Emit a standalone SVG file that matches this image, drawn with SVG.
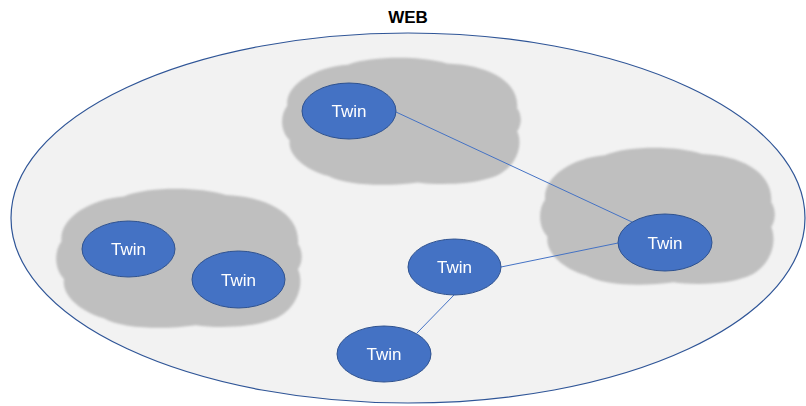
<svg xmlns="http://www.w3.org/2000/svg" xmlns:xlink="http://www.w3.org/1999/xlink" width="806" height="406" viewBox="0 0 806 406">
  <style>
    .web { fill: #F2F2F2; stroke: #2F5597; stroke-width: 1.2; }
    .cloud { fill: #BFBFBF; }
    .twin { fill: #4472C4; stroke: #2F528F; stroke-width: 1; }
    .lbl { fill: #FFFFFF; font-family: "Liberation Sans", Arial, sans-serif; font-size: 17px; text-anchor: middle; }
    .title { fill: #000000; font-family: "Liberation Sans", Arial, sans-serif; font-size: 17px; font-weight: bold; text-anchor: middle; }
    .conn { stroke: #4472C4; stroke-width: 1; fill: none; }
  </style>
  <defs>
    <filter id="soft" x="-5%" y="-5%" width="110%" height="110%">
      <feGaussianBlur stdDeviation="1"/>
    </filter>
    <path id="cloudShape" d="M 3,38 C 2,22 14,8 28,6 C 38,-1 58,-1 69,5 C 85,6 99,18 98,40 C 100,45 100,53 98,58 C 101,70 97,90 86,95 C 78,100 64,100 57,98 C 45,101 28,101 20,93 C 10,88 3,76 4,65 C 0,58 0,45 3,38 Z"/>
  </defs>
  <rect width="806" height="406" fill="#FFFFFF"/>

  <g id="title">
    <text class="title" x="408" y="23">WEB</text>
  </g>

  <g id="web">
    <ellipse class="web" cx="408" cy="218" rx="397" ry="185"/>
  </g>

  <g id="clouds" filter="url(#soft)">
    <use id="cloud-top" class="cloud" xlink:href="#cloudShape" transform="translate(280,57) scale(2.42,1.28)"/>
    <use id="cloud-left" class="cloud" xlink:href="#cloudShape" transform="translate(54,188) scale(2.49,1.40)"/>
    <use id="cloud-right" class="cloud" xlink:href="#cloudShape" transform="translate(538,147) scale(2.38,1.38)"/>
  </g>

  <g id="connectors">
    <line class="conn" x1="396" y1="112" x2="632" y2="222"/>
    <line class="conn" x1="501" y1="267" x2="618" y2="243"/>
    <line class="conn" x1="454" y1="295" x2="417" y2="333"/>
  </g>

  <g id="twin-top">
    <ellipse class="twin" cx="349" cy="111" rx="47" ry="28"/>
    <text class="lbl" x="349" y="117">Twin</text>
  </g>
  <g id="twin-left-a">
    <ellipse class="twin" cx="128.5" cy="249" rx="46.5" ry="28"/>
    <text class="lbl" x="128.5" y="255">Twin</text>
  </g>
  <g id="twin-left-b">
    <ellipse class="twin" cx="238.5" cy="279.5" rx="46.5" ry="28.5"/>
    <text class="lbl" x="238.5" y="285.5">Twin</text>
  </g>
  <g id="twin-right">
    <ellipse class="twin" cx="665" cy="242.5" rx="47" ry="28.5"/>
    <text class="lbl" x="665" y="248.5">Twin</text>
  </g>
  <g id="twin-middle">
    <ellipse class="twin" cx="454.5" cy="267" rx="46.5" ry="28"/>
    <text class="lbl" x="454.5" y="273">Twin</text>
  </g>
  <g id="twin-bottom">
    <ellipse class="twin" cx="384" cy="354" rx="47" ry="28"/>
    <text class="lbl" x="384" y="360">Twin</text>
  </g>
</svg>
